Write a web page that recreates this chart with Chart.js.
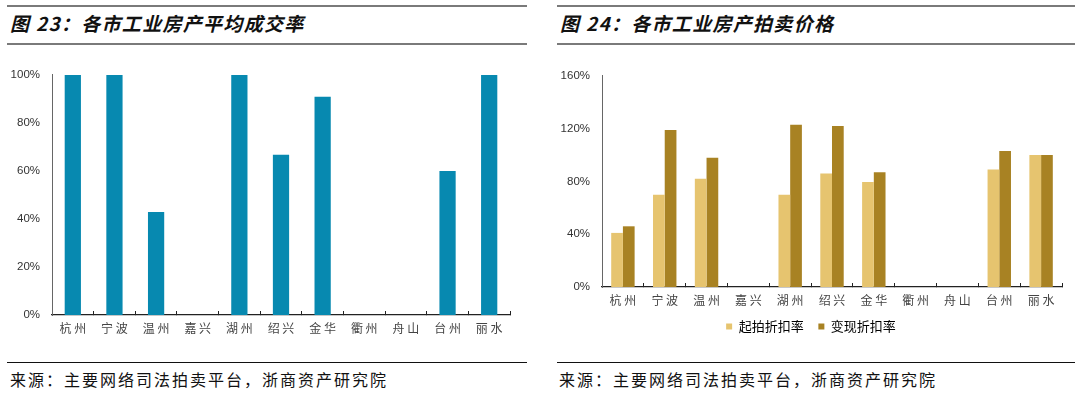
<!DOCTYPE html>
<html>
<head>
<meta charset="utf-8">
<script src="https://cdn.jsdelivr.net/npm/chart.js@4"></script>
<style>
  html, body { margin: 0; padding: 0; background: #fff; }
  body { width: 1080px; height: 396px; position: relative; overflow: hidden; font-family: "Noto Sans CJK SC", sans-serif; }
  .rule { position: absolute; height: 2px; background: #7a7a7a; }
  .foot { position: absolute; height: 1px; background: #111; }
  .title { position: absolute; top: 9px; font-size: 19px; font-style: italic; font-weight: bold; color: #111; letter-spacing: 1.3px; white-space: nowrap; }
  .src { position: absolute; top: 367px; font-size: 16px; color: #111; letter-spacing: 2px; white-space: nowrap; }
  .box { position: absolute; }
</style>
</head>
<body>
<div class="rule" style="left:7px;width:520px;top:5px"></div>
<div class="rule" style="left:7px;width:520px;top:43px"></div>
<div class="rule" style="left:557px;width:518px;top:5px"></div>
<div class="rule" style="left:557px;width:518px;top:43px"></div>
<div class="title" style="left:10px">图 23：各市工业房产平均成交率</div>
<div class="title" style="left:560px">图 24：各市工业房产拍卖价格</div>

<div class="box" style="left:10px;top:64px;width:515px;height:278px"><canvas id="c1"></canvas></div>
<div class="box" style="left:560px;top:65px;width:515px;height:278px"><canvas id="c2"></canvas></div>

<div class="foot" style="left:7px;width:520px;top:362px"></div>
<div class="foot" style="left:557px;width:518px;top:362px"></div>
<div class="src" style="left:10px">来源：主要网络司法拍卖平台，浙商资产研究院</div>
<div class="src" style="left:559px">来源：主要网络司法拍卖平台，浙商资产研究院</div>

<script>
const cities = ["杭州", "宁波", "温州", "嘉兴", "湖州", "绍兴", "金华", "衢州", "舟山", "台州", "丽水"];
const dealRate = [100, 100, 42.9, 0, 100, 66.7, 90.9, 0, 0, 60, 100];
const startDiscount = [41, 70, 82, 0, 70, 86, 79.5, 0, 0, 89, 100];
const realizeDiscount = [46, 119, 98, 0, 123, 122, 87, 0, 0, 103, 100];

const catFont = { family: "Noto Sans CJK SC", size: 12 };
const tickFont = { family: "Liberation Sans", size: 11.5 };

function spaced(s) { return s.split("").join(" "); }

function xAxis() {
  return {
    offset: true,
    grid: { display: true, drawOnChartArea: false, offset: true, tickLength: -4, color: "#222", lineWidth: 1 },
    border: { color: "#222", width: 1.2 },
    ticks: { font: catFont, color: "#444", padding: 10, maxRotation: 0, callback: function (v) { return spaced(this.getLabelForValue(v)); } },
    afterFit: s => { s.height = 27; }
  };
}

function yAxis(max, step) {
  return {
    min: 0, max: max,
    grid: { display: false },
    border: { color: "#666", width: 1 },
    ticks: { stepSize: step, font: tickFont, color: "#333", padding: 4, callback: v => v + "%" },
    afterFit: s => { s.width = 42; }
  };
}

new Chart(document.getElementById("c1"), {
  type: "bar",
  data: {
    labels: cities,
    datasets: [{ label: "平均成交率", data: dealRate, backgroundColor: "#0789B0", barPercentage: 0.39, categoryPercentage: 1 }]
  },
  options: {
    responsive: true, maintainAspectRatio: false, animation: false,
    layout: { padding: { top: 7, right: 15, left: 0, bottom: 0 } },
    plugins: { legend: { display: false }, tooltip: { enabled: false } },
    scales: { x: xAxis(), y: yAxis(100, 20) }
  }
});

new Chart(document.getElementById("c2"), {
  type: "bar",
  data: {
    labels: cities,
    datasets: [
      { label: "起拍折扣率", data: startDiscount, backgroundColor: "#E6C46F", barPercentage: 1, categoryPercentage: 0.56 },
      { label: "变现折扣率", data: realizeDiscount, backgroundColor: "#A88223", barPercentage: 1, categoryPercentage: 0.56 }
    ]
  },
  options: {
    responsive: true, maintainAspectRatio: false, animation: false,
    layout: { padding: { top: 7, right: 13, left: 0, bottom: 0 } },
    plugins: {
      tooltip: { enabled: false },
      legend: {
        position: "bottom",
        labels: { boxWidth: 6, boxHeight: 6, padding: 6, color: "#444", font: { family: "Noto Sans CJK SC", size: 13 },
          generateLabels: chart => chart.data.datasets.map((d, i) => ({
            text: i === 0 ? d.label + "   " : d.label, fillStyle: d.backgroundColor, strokeStyle: d.backgroundColor, lineWidth: 0, datasetIndex: i
          }))
        }
      }
    },
    scales: { x: xAxis(), y: yAxis(160, 40) }
  }
});
</script>
</body>
</html>
